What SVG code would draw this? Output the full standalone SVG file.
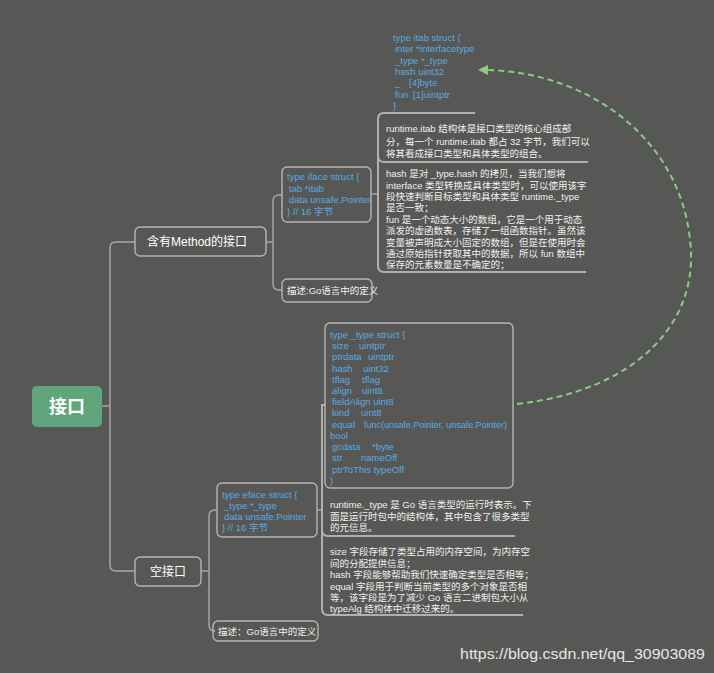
<svg xmlns="http://www.w3.org/2000/svg" width="714" height="673" viewBox="0 0 714 673">
<defs>
<style>
.bg{fill:#575855}
.box{fill:none;stroke:#b4b4b4;stroke-width:1.4}
.ln{fill:none;stroke:#a9a9a9;stroke-width:1.4}
.ul{fill:none;stroke:#b0b0b0;stroke-width:2}
.code{font-family:"Liberation Sans","Noto Sans CJK SC",sans-serif;font-size:9.5px;fill:#5aa9e0}
.note{font-family:"Liberation Sans","Noto Sans CJK SC",sans-serif;font-size:9.5px;fill:#f0f0f0}
.lbl{font-family:"Liberation Sans","Noto Sans CJK SC",sans-serif;font-size:12px;fill:#ffffff}
.dash{fill:none;stroke:#8ccb84;stroke-width:2;stroke-dasharray:6 4}
</style>
<marker id="ah" viewBox="0 0 10 10" refX="2" refY="5" markerWidth="5" markerHeight="5" orient="auto-start-reverse">
<path d="M0,0 L10,5 L0,10 z" fill="#8ccb84"/>
</marker>
</defs>
<rect class="bg" x="0" y="0" width="714" height="673"/>

<g id="connectors">
<path class="ln" d="M102,406 H110"/>
<path class="ln" d="M135,242 H116 Q110,242 110,248 V565 Q110,571 116,571 H135"/>
<path class="ln" d="M266,242 H273"/>
<path class="ln" d="M282,195 H279 Q273,195 273,201 V284 Q273,290 279,290 H282"/>
<path class="ln" d="M371,194 H378"/>
<path class="ul" d="M475,113 H384 Q378,113 378,119 V266 Q378,272 384,272 H586"/>
<path class="ul" d="M378,156 Q378,162 384,162 H588"/>
<path class="ln" d="M201,571 H209"/>
<path class="ln" d="M217,510 H215 Q209,510 209,516 V625 Q209,631 215,631 H213"/>
<path class="ln" d="M317,510 H322"/>
<path class="ul" d="M325,405 H322 V609 Q322,615 328,615 H523"/>
<path class="ul" d="M322,530 Q322,536 328,536 H515"/>
<path class="dash" d="M517,404 C640,390 700,320 690,240 C680,140 590,72 486,70" marker-end="url(#ah)"/>
</g>

<g id="root">
<rect x="32" y="386" width="70" height="41" rx="5" fill="#61a57c"/>
<text x="67" y="413" text-anchor="middle" font-family="'Noto Sans CJK SC',sans-serif" font-size="18" font-weight="bold" fill="#ffffff">接口</text>
</g>

<g id="method-iface">
<rect class="box" x="135" y="227" width="131" height="29" rx="5"/>
<text class="lbl" x="147" y="246">含有Method的接口</text>
</g>

<g id="iface-struct">
<rect class="box" x="282" y="167" width="89" height="55" rx="5"/>
<text class="code"><tspan x="287" y="180">type iface struct {</tspan><tspan x="289" y="192">tab  *itab</tspan><tspan x="289" y="203">data unsafe.Pointer</tspan><tspan x="287" y="215">} // 16 字节</tspan></text>
</g>

<g id="iface-desc">
<rect class="box" x="282" y="279" width="90" height="23" rx="5"/>
<text class="note" x="287" y="294">描述:Go语言中的定义</text>
</g>

<g id="itab-struct">
<text class="code"><tspan x="393" y="41">type itab struct {</tspan><tspan x="395" y="52">inter *interfacetype</tspan><tspan x="395" y="64">_type *_type</tspan><tspan x="395" y="75">hash  uint32</tspan><tspan x="395" y="86">_</tspan><tspan x="409" y="86">[4]byte</tspan><tspan x="395" y="98">fun</tspan><tspan x="413" y="98">[1]uintptr</tspan><tspan x="393" y="109">}</tspan></text>
</g>

<g id="itab-note">
<text class="note"><tspan x="386" y="132">runtime.itab 结构体是接口类型的核心组成部</tspan><tspan x="386" y="145">分，每一个 runtime.itab 都占 32 字节，我们可以</tspan><tspan x="386" y="157">将其看成接口类型和具体类型的组合。</tspan></text>
</g>

<g id="hash-note">
<text class="note"><tspan x="386" y="177">hash 是对 _type.hash 的拷贝，当我们想将</tspan><tspan x="386" y="189">interface 类型转换成具体类型时，可以使用该字</tspan><tspan x="386" y="200">段快速判断目标类型和具体类型 runtime._type</tspan><tspan x="386" y="211">是否一致；</tspan><tspan x="386" y="223">fun 是一个动态大小的数组，它是一个用于动态</tspan><tspan x="386" y="234">派发的虚函数表，存储了一组函数指针。虽然该</tspan><tspan x="386" y="246">变量被声明成大小固定的数组，但是在使用时会</tspan><tspan x="386" y="257">通过原始指针获取其中的数据，所以 fun 数组中</tspan><tspan x="386" y="268">保存的元素数量是不确定的；</tspan></text>
</g>

<g id="empty-iface">
<rect class="box" x="135" y="557" width="66" height="29" rx="5"/>
<text class="lbl" x="168" y="576" text-anchor="middle">空接口</text>
</g>

<g id="eface-struct">
<rect class="box" x="217" y="483" width="100" height="54" rx="5"/>
<text class="code"><tspan x="222" y="498">type eface struct {</tspan><tspan x="224" y="509">_type *_type</tspan><tspan x="224" y="520">data  unsafe.Pointer</tspan><tspan x="222" y="531">} // 16 字节</tspan></text>
</g>

<g id="eface-desc">
<rect class="box" x="213" y="621" width="105" height="20" rx="5"/>
<text class="note" x="218" y="635">描述：Go语言中的定义</text>
</g>

<g id="type-struct">
<rect class="box" x="325" y="323" width="188" height="165" rx="5"/>
<text class="code">
<tspan x="330" y="338">type _type struct {</tspan>
<tspan x="332" y="349">size</tspan><tspan x="359" y="349">uintptr</tspan>
<tspan x="332" y="360">ptrdata</tspan><tspan x="368" y="360">uintptr</tspan>
<tspan x="332" y="372">hash</tspan><tspan x="363" y="372">uint32</tspan>
<tspan x="332" y="383">tflag</tspan><tspan x="362" y="383">tflag</tspan>
<tspan x="332" y="394">align</tspan><tspan x="362" y="394">uint8</tspan>
<tspan x="332" y="405">fieldAlign uint8</tspan>
<tspan x="332" y="416">kind</tspan><tspan x="361" y="416">uint8</tspan>
<tspan x="332" y="428">equal</tspan><tspan x="364" y="428" textLength="143" lengthAdjust="spacingAndGlyphs">func(unsafe.Pointer, unsafe.Pointer)</tspan>
<tspan x="330" y="439">bool</tspan>
<tspan x="332" y="450">gcdata</tspan><tspan x="372" y="450">*byte</tspan>
<tspan x="332" y="461">str</tspan><tspan x="361" y="461">nameOff</tspan>
<tspan x="332" y="473">ptrToThis typeOff</tspan>
<tspan x="330" y="484">)</tspan>
</text>
</g>

<g id="type-note">
<text class="note"><tspan x="330" y="508">runtime._type 是 Go 语言类型的运行时表示。下</tspan><tspan x="330" y="520">面是运行时包中的结构体，其中包含了很多类型</tspan><tspan x="330" y="531">的元信息。</tspan></text>
</g>

<g id="size-note">
<text class="note"><tspan x="330" y="555">size 字段存储了类型占用的内存空间，为内存空</tspan><tspan x="330" y="567">间的分配提供信息；</tspan><tspan x="330" y="578">hash 字段能够帮助我们快速确定类型是否相等；</tspan><tspan x="330" y="590">equal 字段用于判断当前类型的多个对象是否相</tspan><tspan x="330" y="601">等，该字段是为了减少 Go 语言二进制包大小从</tspan><tspan x="330" y="612">typeAlg 结构体中迁移过来的。</tspan></text>
</g>

<text x="460" y="659" font-family="'Liberation Sans',sans-serif" font-size="14" fill="#e6e6e6" textLength="245" lengthAdjust="spacingAndGlyphs">https://blog.csdn.net/qq_30903089</text>
</svg>
